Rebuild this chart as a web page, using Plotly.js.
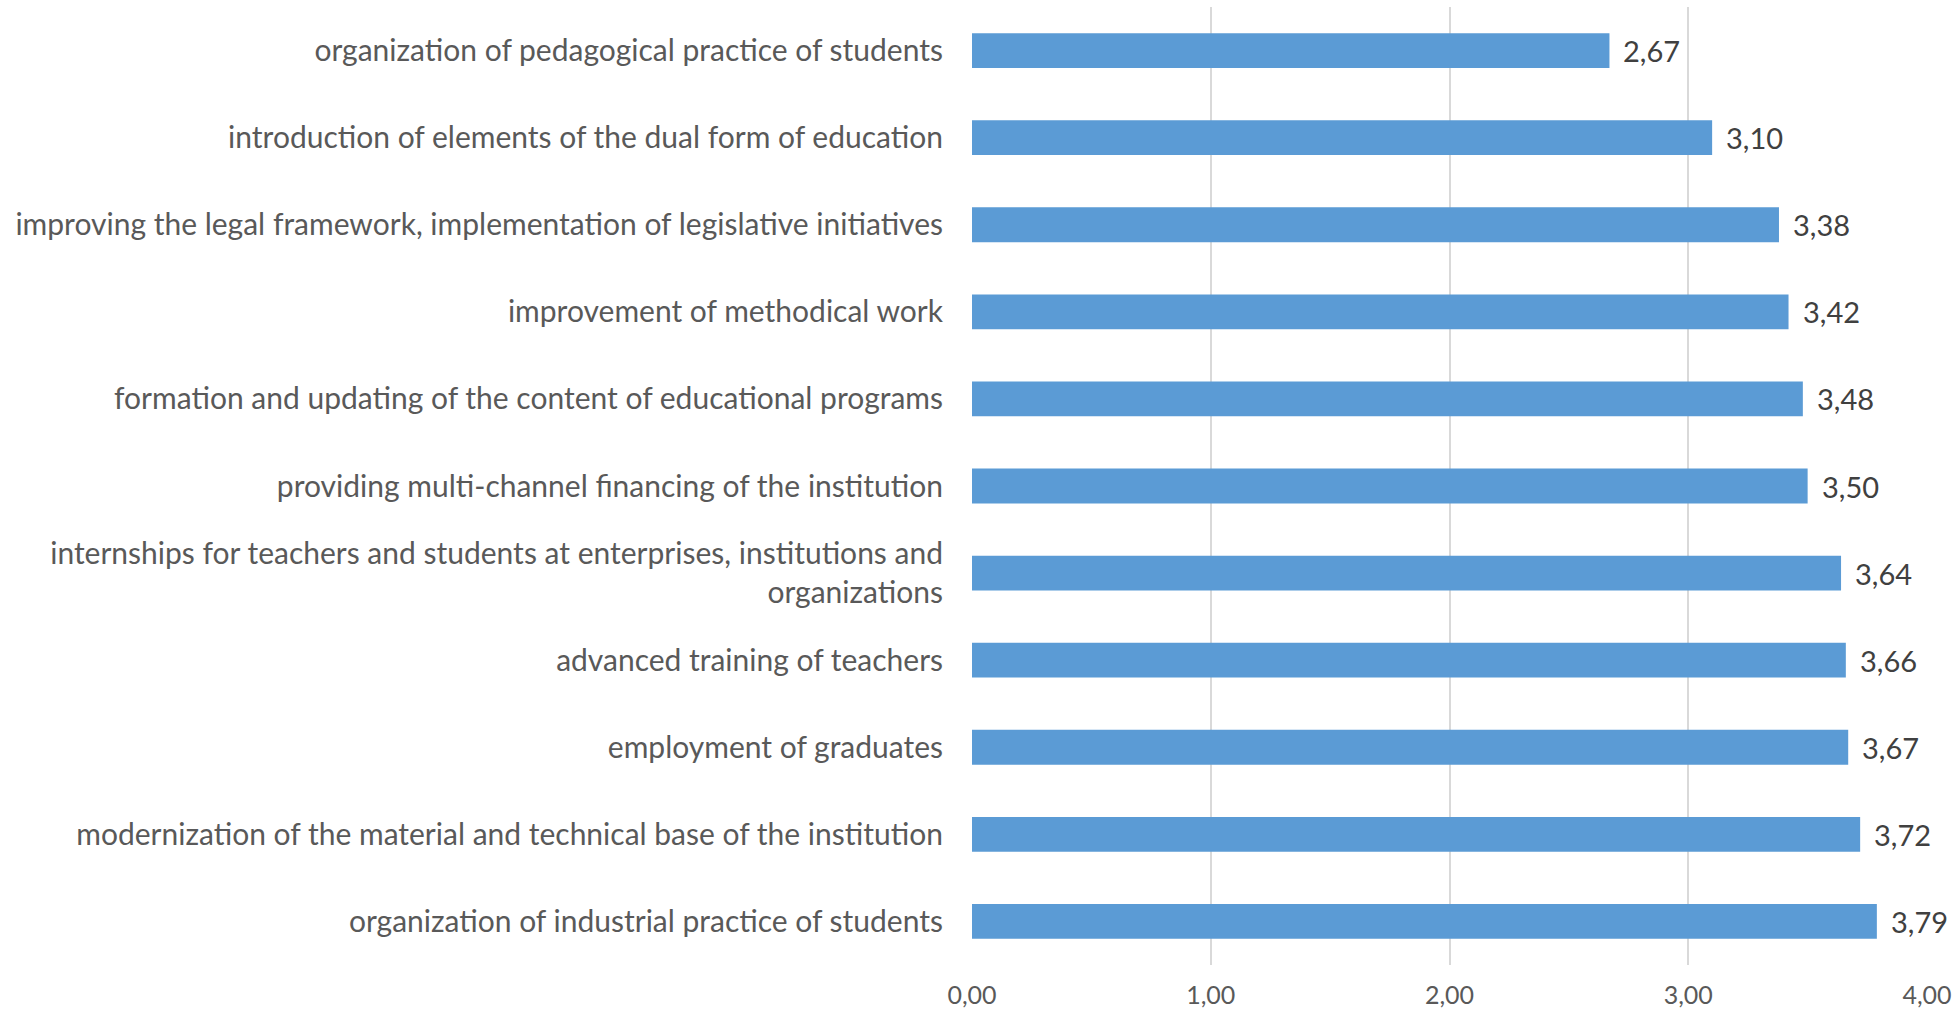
<!DOCTYPE html>
<html>
<head>
<meta charset="utf-8">
<script src="https://cdn.plot.ly/plotly-3.0.1.min.js"></script>
<style>html,body{margin:0;padding:0;background:#fff;}#chart{width:1957px;height:1010px;}</style>
</head>
<body>
<div id="chart"></div>
<script>
const categories = [
  "organization of pedagogical practice of students",
  "introduction of elements of the dual form of education",
  "improving the legal framework, implementation of legislative initiatives",
  "improvement of methodical work",
  "formation and updating of the content of educational programs",
  "providing multi-channel financing of the institution",
  "internships for teachers and students at enterprises, institutions and<br>organizations",
  "advanced training of teachers",
  "employment of graduates",
  "modernization of the material and technical base of the institution",
  "organization of industrial practice of students"
];
const values = [2.67, 3.10, 3.38, 3.42, 3.48, 3.50, 3.64, 3.66, 3.67, 3.72, 3.79];
const xTicks = [0, 1, 2, 3, 4];

const FONT = "Lato, 'Open Sans', sans-serif";

const trace = {
  type: 'bar',
  orientation: 'h',
  x: values,
  y: categories,
  marker: {color: '#5B9BD5'},
  hoverinfo: 'none'
};

const annotations = values.map((v, i) => ({
  x: v, y: categories[i], xref: 'x', yref: 'y',
  text: v.toFixed(2).replace('.', ','),
  showarrow: false, xanchor: 'left', yanchor: 'middle', xshift: 12,
  font: {family: FONT, size: 29, color: '#404040'}
}));

const layout = {
  width: 1957, height: 1010,
  margin: {l: 972, r: 30, t: 7, b: 45},
  paper_bgcolor: '#ffffff', plot_bgcolor: '#ffffff',
  separators: ', ',
  bargap: 0.6,
  showlegend: false,
  xaxis: {
    range: [0, 4], tickvals: xTicks, tickformat: '.2f',
    showgrid: true, gridcolor: '#D9D9D9', gridwidth: 2,
    zeroline: false, showline: false, ticks: '',
    ticklabelstandoff: 13,
    tickfont: {family: FONT, size: 25, color: '#595959'},
    fixedrange: true
  },
  yaxis: {
    autorange: 'reversed', type: 'category',
    showgrid: false, zeroline: false, showline: false, ticks: '',
    ticklabelstandoff: 28,
    tickfont: {family: FONT, size: 30, color: '#595959'},
    fixedrange: true
  },
  annotations: annotations
};

Plotly.newPlot('chart', [trace], layout, {staticPlot: true, displayModeBar: false});
</script>
</body>
</html>
